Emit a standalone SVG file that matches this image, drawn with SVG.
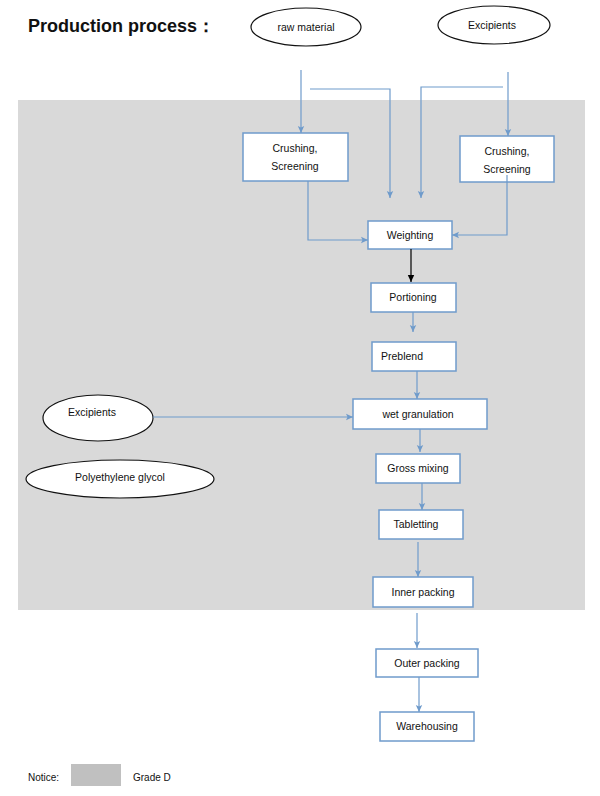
<svg xmlns="http://www.w3.org/2000/svg" width="600" height="796" viewBox="0 0 600 796">
<style>
.box{fill:#fff;stroke:#6f9bcb;stroke-width:1.5}
.ell{fill:#fff;stroke:#111;stroke-width:1.2}
.t{font-family:"Liberation Sans",Arial,sans-serif;font-size:10.5px;fill:#111;text-anchor:middle}
.c{fill:none;stroke:#6f9bcb;stroke-width:1.2}
</style>
<defs>
<marker id="a" markerWidth="8" markerHeight="8" refX="7" refY="4" orient="auto" markerUnits="userSpaceOnUse">
<path d="M0,0.8 L7,4 L0,7.2 L1.5,4 Z" fill="#6f9bcb"/>
</marker>
<marker id="ab" markerWidth="8" markerHeight="8" refX="7" refY="4" orient="auto" markerUnits="userSpaceOnUse">
<path d="M0,0.8 L7,4 L0,7.2 Z" fill="#000"/>
</marker>
</defs>
<rect x="0" y="0" width="600" height="796" fill="#fff"/>
<rect x="18" y="100" width="567" height="510" fill="#d9d9d9"/>
<text x="28" y="32" font-family="Liberation Sans,Arial,sans-serif" font-size="18" font-weight="bold" fill="#111">Production process：</text>

<g id="raw-material"><ellipse class="ell" cx="306" cy="27" rx="55" ry="19"/><text class="t" x="306" y="31" font-size="10">raw material</text></g>
<g id="excipients-top"><ellipse class="ell" cx="494" cy="25" rx="56" ry="19"/><text class="t" x="492" y="29" font-size="10">Excipients</text></g>
<g id="crushing-left"><rect class="box" x="243" y="133" width="105" height="48"/><text class="t" x="295" y="152">Crushing,</text><text class="t" x="295" y="170">Screening</text></g>
<g id="crushing-right"><rect class="box" x="460" y="136" width="94" height="46"/><text class="t" x="507" y="155">Crushing,</text><text class="t" x="507" y="173">Screening</text></g>
<g id="weighting"><rect class="box" x="368" y="221" width="84" height="28"/><text class="t" x="410" y="239">Weighting</text></g>
<g id="portioning"><rect class="box" x="371" y="283" width="85" height="29"/><text class="t" x="413" y="301">Portioning</text></g>
<g id="preblend"><rect class="box" x="372" y="342" width="84" height="29"/><text class="t" x="381" y="360" style="text-anchor:start">Preblend</text></g>
<g id="wet-granulation"><rect class="box" x="353" y="399" width="134" height="30"/><text class="t" x="418" y="418">wet granulation</text></g>
<g id="excipients-left"><ellipse class="ell" cx="98" cy="418" rx="55" ry="23"/><text class="t" x="92" y="416">Excipients</text></g>
<g id="polyethylene-glycol"><ellipse class="ell" cx="120" cy="479" rx="94" ry="19"/><text class="t" x="120" y="481">Polyethylene glycol</text></g>
<g id="gross-mixing"><rect class="box" x="376" y="454" width="84" height="29"/><text class="t" x="418" y="472">Gross mixing</text></g>
<g id="tabletting"><rect class="box" x="379" y="510" width="84" height="29"/><text class="t" x="416" y="528">Tabletting</text></g>
<g id="inner-packing"><rect class="box" x="373" y="577" width="100" height="30"/><text class="t" x="423" y="596">Inner packing</text></g>
<g id="outer-packing"><rect class="box" x="376" y="649" width="102" height="28"/><text class="t" x="427" y="667">Outer packing</text></g>
<g id="warehousing"><rect class="box" x="380" y="712" width="94" height="29"/><text class="t" x="427" y="730">Warehousing</text></g>

<g id="connectors">
<path class="c" d="M301,70 V133" marker-end="url(#a)"/>
<path class="c" d="M310,89 H390 V198" marker-end="url(#a)"/>
<path class="c" d="M503,87 H421 V198" marker-end="url(#a)"/>
<path class="c" d="M508,72 V136" marker-end="url(#a)"/>
<path class="c" d="M308,181 V240 H368" marker-end="url(#a)"/>
<path class="c" d="M507,175 V235 H452" marker-end="url(#a)"/>
<path d="M411,249 V282" stroke="#000" stroke-width="1.2" fill="none" marker-end="url(#ab)"/>
<path class="c" d="M413,312 V332" marker-end="url(#a)"/>
<path class="c" d="M417,371 V399" stroke-width="2" marker-end="url(#a)"/>
<path class="c" d="M153,417 H353" marker-end="url(#a)"/>
<path class="c" d="M420,429 V452" marker-end="url(#a)"/>
<path class="c" d="M422,483 V510" marker-end="url(#a)"/>
<path class="c" d="M418,542 V577" marker-end="url(#a)"/>
<path class="c" d="M417,613 V648" stroke-width="2" marker-end="url(#a)"/>
<path class="c" d="M419,677 V712" marker-end="url(#a)"/>
</g>

<text x="28" y="781" font-family="Liberation Sans,Arial,sans-serif" font-size="10" fill="#111">Notice:</text>
<rect x="71" y="764" width="50" height="22" fill="#c0c0c0"/>
<text x="133" y="781" font-family="Liberation Sans,Arial,sans-serif" font-size="10" fill="#111">Grade D</text>
</svg>
